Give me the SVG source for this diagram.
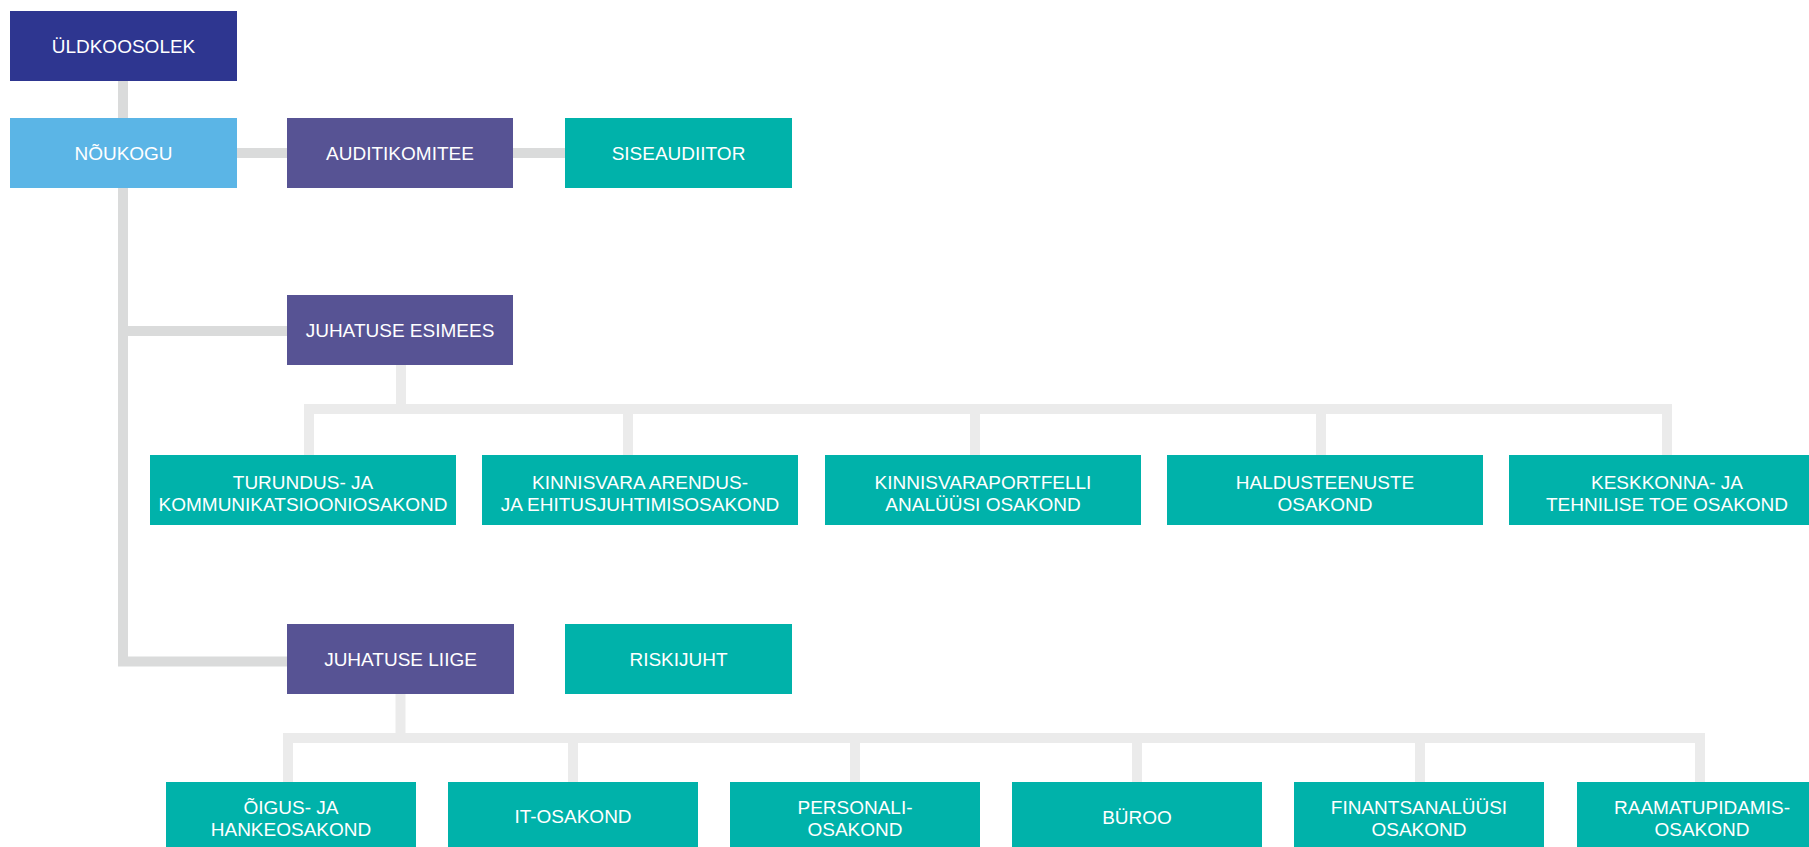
<svg xmlns="http://www.w3.org/2000/svg" width="1809" height="847" viewBox="0 0 1809 847">
<style>
.t{font-family:"Liberation Sans",Arial,sans-serif;font-size:19px;fill:#ffffff;text-anchor:middle}
.dk{fill:#2e3690}.lb{fill:#5bb5e6}.pu{fill:#575394}.te{fill:#00b2aa}
.c1{fill:none;stroke:#dadbdb;stroke-width:10}
.c2{fill:none;stroke:#ebebeb;stroke-width:10}
</style>
<rect width="1809" height="847" fill="#ffffff"/>
<g id="connectors">
<path class="c1" d="M123 81 V118"/>
<path class="c1" d="M237 153 H287"/>
<path class="c1" d="M513 153 H565"/>
<path class="c1" d="M123 188 V661.5 H287"/>
<path class="c1" d="M123 331 H287"/>
<path class="c2" d="M401 365 V409"/>
<path class="c2" d="M309 455 V409 H1667 V455"/>
<path class="c2" d="M628 409 V455 M975 409 V455 M1321 409 V455"/>
<path class="c2" d="M400.5 694 V738"/>
<path class="c2" d="M288 782 V738 H1700 V782"/>
<path class="c2" d="M573 738 V782 M855 738 V782 M1137 738 V782 M1420 738 V782"/>
</g>
<g id="uldkoosolek"><rect class="dk" x="10" y="11" width="227" height="70"/><text class="t" x="123.5" y="53">ÜLDKOOSOLEK</text></g>
<g id="noukogu"><rect class="lb" x="10" y="118" width="227" height="70"/><text class="t" x="123.5" y="160">NÕUKOGU</text></g>
<g id="auditikomitee"><rect class="pu" x="287" y="118" width="226" height="70"/><text class="t" x="400" y="160">AUDITIKOMITEE</text></g>
<g id="siseaudiitor"><rect class="te" x="565" y="118" width="227" height="70"/><text class="t" x="678.5" y="160">SISEAUDIITOR</text></g>
<g id="juhatuse-esimees"><rect class="pu" x="287" y="295" width="226" height="70"/><text class="t" x="400" y="337">JUHATUSE ESIMEES</text></g>
<g id="turundus"><rect class="te" x="150" y="455" width="306" height="70"/><text class="t" x="303" y="489">TURUNDUS- JA</text><text class="t" x="303" y="511">KOMMUNIKATSIOONIOSAKOND</text></g>
<g id="kinnisvara-arendus"><rect class="te" x="482" y="455" width="316" height="70"/><text class="t" x="640" y="489">KINNISVARA ARENDUS-</text><text class="t" x="640" y="511">JA EHITUSJUHTIMISOSAKOND</text></g>
<g id="kinnisvaraportfelli"><rect class="te" x="825" y="455" width="316" height="70"/><text class="t" x="983" y="489">KINNISVARAPORTFELLI</text><text class="t" x="983" y="511">ANALÜÜSI OSAKOND</text></g>
<g id="haldusteenuste"><rect class="te" x="1167" y="455" width="316" height="70"/><text class="t" x="1325" y="489">HALDUSTEENUSTE</text><text class="t" x="1325" y="511">OSAKOND</text></g>
<g id="keskkonna"><rect class="te" x="1509" y="455" width="316" height="70"/><text class="t" x="1667" y="489">KESKKONNA- JA</text><text class="t" x="1667" y="511">TEHNILISE TOE OSAKOND</text></g>
<g id="juhatuse-liige"><rect class="pu" x="287" y="624" width="227" height="70"/><text class="t" x="400.5" y="666">JUHATUSE LIIGE</text></g>
<g id="riskijuht"><rect class="te" x="565" y="624" width="227" height="70"/><text class="t" x="678.5" y="666">RISKIJUHT</text></g>
<g id="oigus"><rect class="te" x="166" y="782" width="250" height="70"/><text class="t" x="291" y="814">ÕIGUS- JA</text><text class="t" x="291" y="836">HANKEOSAKOND</text></g>
<g id="it-osakond"><rect class="te" x="448" y="782" width="250" height="70"/><text class="t" x="573" y="823">IT-OSAKOND</text></g>
<g id="personali"><rect class="te" x="730" y="782" width="250" height="70"/><text class="t" x="855" y="814">PERSONALI-</text><text class="t" x="855" y="836">OSAKOND</text></g>
<g id="buroo"><rect class="te" x="1012" y="782" width="250" height="70"/><text class="t" x="1137" y="824">BÜROO</text></g>
<g id="finantsanaluusi"><rect class="te" x="1294" y="782" width="250" height="70"/><text class="t" x="1419" y="814">FINANTSANALÜÜSI</text><text class="t" x="1419" y="836">OSAKOND</text></g>
<g id="raamatupidamis"><rect class="te" x="1577" y="782" width="250" height="70"/><text class="t" x="1702" y="814">RAAMATUPIDAMIS-</text><text class="t" x="1702" y="836">OSAKOND</text></g>
</svg>
